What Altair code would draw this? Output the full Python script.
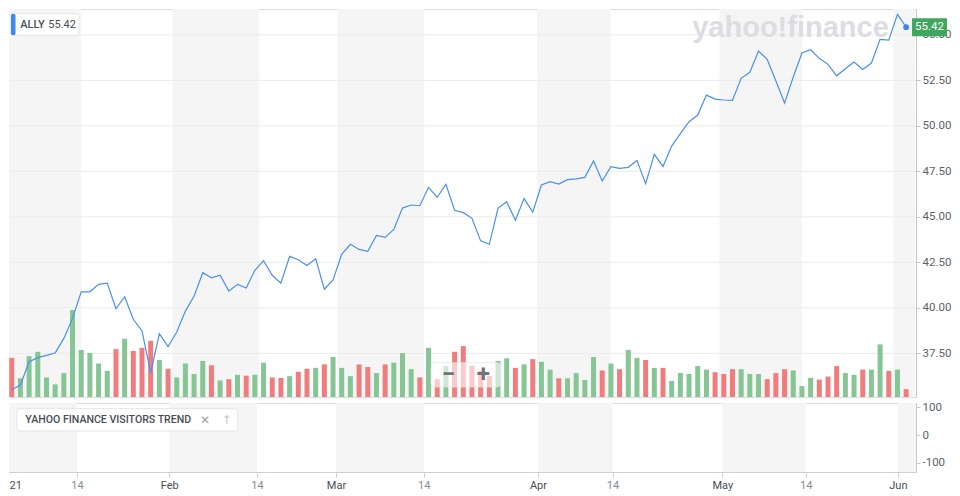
import altair as alt
import pandas as pd

TICKER = "ALLY"
WATERMARK = "yahoo!finance"
PANEL_TITLE = "YAHOO FINANCE VISITORS TREND"

# daily closes (trading-day index 0 = 4 Jan 2021 ... 103 = 2 Jun 2021)
CLOSE = [35.50, 35.76, 37.04, 37.26, 37.39, 37.52, 38.32, 39.42, 40.88, 40.88,
         41.29, 41.36, 39.95, 40.61, 39.37, 38.73, 36.43, 38.58, 37.87, 38.67,
         39.82, 40.65, 41.93, 41.65, 41.79, 40.92, 41.29, 41.09, 42.06, 42.59,
         41.79, 41.36, 42.83, 42.64, 42.33, 42.70, 41.02, 41.53, 42.94, 43.49,
         43.21, 43.10, 43.98, 43.87, 44.31, 45.48, 45.65, 45.61, 46.62, 46.07,
         46.79, 45.36, 45.23, 44.92, 43.68, 43.49, 45.47, 45.83, 44.81, 46.00,
         45.26, 46.75, 46.93, 46.80, 47.04, 47.09, 47.17, 48.07, 46.97, 47.75,
         47.66, 47.72, 48.10, 46.82, 48.43, 47.77, 48.89, 49.57, 50.23, 50.59,
         51.69, 51.47, 51.42, 51.40, 52.61, 52.94, 54.11, 53.65, 52.46, 51.25,
         52.68, 54.00, 54.18, 53.71, 53.38, 52.75, 53.14, 53.51, 53.10, 53.45,
         54.75, 54.71, 56.13, 55.42]

# volume, millions of shares (estimated)
VOLUME_M = [4.5, 2.15, 4.7, 5.2, 2.25, 1.45, 2.75, 10.0, 5.4, 5.05,
            3.85, 3.0, 5.5, 6.7, 5.3, 5.65, 6.45, 4.25, 3.25, 2.25,
            3.85, 2.65, 4.15, 3.65, 1.9, 2.05, 2.55, 2.45, 2.55, 3.95,
            2.25, 2.2, 2.4, 2.9, 3.25, 3.35, 3.75, 4.6, 3.35, 2.4,
            3.75, 3.45, 2.75, 3.75, 3.95, 5.05, 3.2, 2.25, 5.65, 2.05,
            3.55, 5.2, 5.85, 3.6, 3.0, 2.4, 4.15, 4.45, 3.35, 3.75,
            4.35, 4.05, 3.15, 2.15, 2.15, 2.75, 1.95, 4.6, 3.05, 3.85,
            3.2, 5.4, 4.5, 4.25, 3.35, 3.35, 1.85, 2.75, 2.65, 3.55,
            3.15, 2.85, 2.65, 3.2, 3.2, 2.65, 2.65, 2.05, 2.75, 3.2,
            3.05, 1.25, 2.2, 2.0, 2.35, 3.55, 2.75, 2.55, 3.15, 3.15,
            6.05, 3.0, 3.15, 0.9]

# bar direction: u = up day (green), d = down day (red)
DIRECTION = list("duuuuuuuuu" "uududddudu" "uuudududuu" "ddudduduuu"
                 "dduduuudud" "uddddduudu" "duuduuuudu" "duududuuuu"
                 "uddduuuddd" "uuuddduudu" "udud")

# x-axis ticks in trading-day index units
TICK_POS = [-0.5, 8, 18.5, 28.5, 37.5, 47.5, 60.5, 69, 81.5, 91, 101.5]
TICK_TEXT = ["21", "14", "Feb", "14", "Mar", "14", "Apr", "14", "May", "14", "Jun"]
X_END = 104

PRICE_TICKS = [37.5, 40.0, 42.5, 45.0, 47.5, 50.0, 52.5, 55.0]
VISITOR_TICKS = [100, 0, -100]

# ---------------- layout / style ----------------
W = 907
H_TOP = 388
H_BOT = 69
X_DOM = [0.26, 103.56]
PRICE_DOM = [35.10, 56.42]
VOL_DOM = [0, 44.6]
VIS_DOM = [-132.4, 115.8]

BAND = "#f5f5f5"
GRID = "#ebebeb"
AXIS = "#c4c8cc"
LABEL = "#5b636a"
DARK = "#464e56"
LINE = "#4a90ee"
GREEN = "#85c694"
RED = "#f07d7d"
TAG = "#3fa65d"
BLUE = "#3d86f5"
FONT = "Roboto"

n = len(CLOSE)
df = pd.DataFrame({"i": list(range(n)), "close": CLOSE, "vol": VOLUME_M, "dir": DIRECTION})
last = pd.DataFrame({"i": [n - 1], "close": [CLOSE[-1]], "lab": [f"{CLOSE[-1]:.2f}"]})

tick_vals = [max(p, X_DOM[0] + 0.01) for p in TICK_POS]
band_s = [TICK_POS[0]] + tick_vals[2::2]
band_e = tick_vals[1::2] + [X_END]
bands = pd.DataFrame({"s": band_s, "e": band_e})
grid_df = pd.DataFrame({"v": PRICE_TICKS})
vis_df = pd.DataFrame({"v": VISITOR_TICKS})


def xs():
    return alt.Scale(domain=X_DOM, nice=False, zero=False)


def ps():
    return alt.Scale(domain=PRICE_DOM, nice=False, zero=False)


one = alt.Data(values=[{"k": 1}])

# ---------------- top panel ----------------
bands_top = alt.Chart(bands).mark_rect(color=BAND, clip=True).encode(
    x=alt.X("s:Q", scale=xs(), axis=None), x2="e:Q")

grid = alt.Chart(grid_df).mark_rule(color=GRID, strokeWidth=1).encode(
    y=alt.Y("v:Q", scale=ps(), axis=None))

wm = alt.Chart(pd.DataFrame({"t": [WATERMARK]})).mark_text(
    font="Liberation Sans", fontSize=29, fontWeight="bold", color="#dcdde2",
    align="center", baseline="alphabetic").encode(
    x=alt.value(781.5), y=alt.value(27.5), text="t:N")

vol = alt.Chart(df).mark_bar(width=5, clip=True).encode(
    x=alt.X("i:Q", scale=xs(), axis=None),
    y=alt.Y("vol:Q", scale=alt.Scale(domain=VOL_DOM, nice=False), axis=None),
    color=alt.Color("dir:N", scale=alt.Scale(domain=["u", "d"], range=[GREEN, RED]), legend=None))

price_axis = alt.Axis(orient="right", values=PRICE_TICKS, format=".2f", grid=False, title=None,
                      domainColor=AXIS, tickColor=AXIS, tickSize=4, labelPadding=2,
                      labelColor=LABEL, labelFontSize=11.5, labelFont=FONT, labelOverlap=False)

line = alt.Chart(df).mark_line(color=LINE, strokeWidth=1.2, clip=True).encode(
    x=alt.X("i:Q", scale=xs(), axis=None),
    y=alt.Y("close:Q", scale=ps(), axis=price_axis))

dot = alt.Chart(last).mark_circle(size=34, color=BLUE, opacity=1).encode(
    x=alt.X("i:Q", scale=xs(), axis=None), y=alt.Y("close:Q", scale=ps(), axis=None))

tag = alt.Chart(last).mark_point(shape="M-1.94,-1H1.94V1H-1.94Z", size=324, filled=True,
                                 fill=TAG, strokeOpacity=0, opacity=1).encode(
    x=alt.value(W + 13.5), y=alt.Y("close:Q", scale=ps(), axis=None))

tag_text = alt.Chart(last).mark_text(color="white", fontSize=11.5, font=FONT,
                                     align="center", baseline="middle").encode(
    x=alt.value(W + 13.5), y=alt.Y("close:Q", scale=ps(), axis=None), text="lab:N")

leg_df = pd.DataFrame({"t": [TICKER], "lab": [f"{CLOSE[-1]:.2f}"]})
leg_box = alt.Chart(one).mark_rect(fill="white", stroke="#e6e6e6", cornerRadius=3).encode(
    x=alt.value(2), x2=alt.value(70), y=alt.value(4.7), y2=alt.value(26.3))
leg_bar = alt.Chart(one).mark_rect(fill=BLUE, cornerRadius=2).encode(
    x=alt.value(2), x2=alt.value(6.5), y=alt.value(4.7), y2=alt.value(26.3))
leg_t1 = alt.Chart(leg_df).mark_text(align="left", baseline="middle", fontSize=11,
                                     fontWeight=500, font=FONT, color=DARK).encode(
    x=alt.value(11.3), y=alt.value(16), text="t:N")
leg_t2 = alt.Chart(leg_df).mark_text(align="left", baseline="middle", fontSize=11,
                                     font=FONT, color=DARK).encode(
    x=alt.value(39.3), y=alt.value(16), text="lab:N")

zoom_box = alt.Chart(one).mark_rect(fill="white", fillOpacity=0.6, stroke="#e2e2e2",
                                    strokeOpacity=0.7, cornerRadius=4).encode(
    x=alt.value(422), x2=alt.value(492), y=alt.value(353.7), y2=alt.value(378))
zoom_minus = alt.Chart(one).mark_text(text="\u2212", fontSize=24, fontWeight="bold", font=FONT,
                                      color="#6e7479", align="center", baseline="middle").encode(
    x=alt.value(439.3), y=alt.value(366))
zoom_plus = alt.Chart(one).mark_text(text="+", fontSize=24, fontWeight="bold", font=FONT,
                                     color="#6e7479", align="center", baseline="middle").encode(
    x=alt.value(474.3), y=alt.value(366))

top = alt.layer(bands_top, grid, wm, vol, line, dot, tag, tag_text,
                leg_box, leg_bar, leg_t1, leg_t2, zoom_box, zoom_minus, zoom_plus
                ).resolve_scale(y="independent").properties(width=W, height=H_TOP)

# ---------------- bottom panel ----------------
labexpr = ("[" + ",".join(f"'{t}'" for t in TICK_TEXT) + "][indexof(["
           + ",".join(repr(v) for v in tick_vals) + "], datum.value)]")
day_vals = [v for v, t in zip(tick_vals, TICK_TEXT) if t == "14"]
is_day = "indexof([" + ",".join(repr(v) for v in day_vals) + "], datum.value) >= 0"
is_first = f"datum.value == {tick_vals[0]!r}"

x_axis = alt.Axis(values=tick_vals, labelExpr=labexpr, grid=False, title=None,
                  labelAlign={"condition": {"test": is_first, "value": "left"}, "value": "center"},
                  labelColor={"condition": {"test": is_day, "value": "#858d94"}, "value": DARK},
                  tickOpacity={"condition": {"test": is_first, "value": 0}, "value": 1},
                  domainColor="#cdd0d3", tickColor="#cdd0d3", tickSize=5, labelPadding=2,
                  labelFontSize=11, labelFont=FONT, labelOverlap=False)

bands_bot = alt.Chart(bands).mark_rect(color=BAND, clip=True).encode(
    x=alt.X("s:Q", scale=xs(), axis=x_axis), x2="e:Q")

vis_axis = alt.Axis(orient="right", values=VISITOR_TICKS, labelExpr="'' + datum.value",
                    grid=False, title=None, domainColor=AXIS, tickColor=AXIS, tickSize=4,
                    labelPadding=2, labelColor=LABEL, labelFontSize=11.5, labelFont=FONT)
vis_holder = alt.Chart(vis_df).mark_rule(opacity=0).encode(
    y=alt.Y("v:Q", scale=alt.Scale(domain=VIS_DOM, nice=False, zero=False), axis=vis_axis))

vb_box = alt.Chart(one).mark_rect(fill="white", stroke="#e4e4e4", cornerRadius=3).encode(
    x=alt.value(7.7), x2=alt.value(228.7), y=alt.value(5.7), y2=alt.value(28))
vb_txt = alt.Chart(pd.DataFrame({"t": [PANEL_TITLE]})).mark_text(
    align="left", baseline="middle", fontSize=10.6, fontWeight=500, font=FONT, color=DARK).encode(
    x=alt.value(16.3), y=alt.value(16.5), text="t:N")
vb_close = alt.Chart(one).mark_text(text="\u2715", align="center", baseline="middle",
                                    fontSize=12, font="DejaVu Sans", color="#9ba1a7").encode(
    x=alt.value(196), y=alt.value(16.5))
vb_up = alt.Chart(one).mark_text(text="\u2191", align="center", baseline="middle",
                                 fontSize=12, font="DejaVu Sans", color="#c5c9cd").encode(
    x=alt.value(217.5), y=alt.value(16.5))

bottom = alt.layer(bands_bot, vis_holder, vb_box, vb_txt, vb_close, vb_up
                   ).properties(width=W, height=H_BOT)

chart = alt.vconcat(top, bottom, spacing=6, bounds="flush").properties(padding=0).configure_view(
    stroke="#e6e6e6").configure(font=FONT)

chart.save("out.html", embed_options={"renderer": "svg", "actions": False})
